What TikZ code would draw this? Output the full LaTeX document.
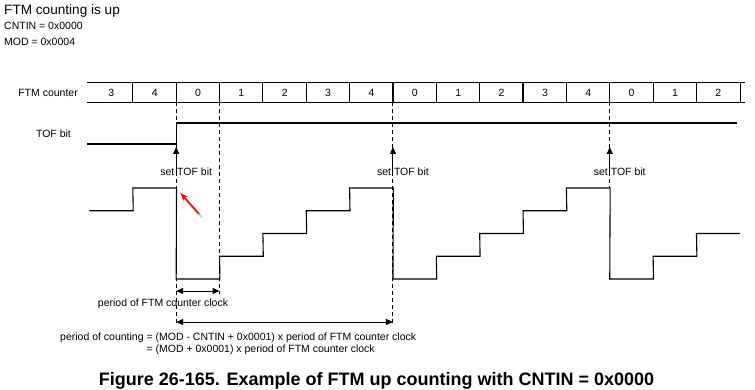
\documentclass[tikz,border=0pt]{standalone}
\usepackage{fontspec}
\setmainfont{Liberation Sans}
\usepackage{tikz}
\usetikzlibrary{arrows.meta, calc}
\newcommand\lblfont{\fontsize{10.5}{12}\selectfont}
\tikzset{
    sig/.style={line width=1.1pt, black},
    guide/.style={line width=1pt, black, dash pattern=on 4pt off 3pt},
    cell/.style={minimum width=43.36pt, minimum height=19pt, inner sep=0pt, font=\lblfont},
    lbl/.style={font=\lblfont, inner sep=0pt},
    tofarrow/.style={-{Triangle[length=7pt,width=6pt]}, line width=1pt},
    span/.style={{Triangle[length=7pt,width=6pt]}-{Triangle[length=7pt,width=6pt]}, line width=1pt}
}

\begin{document}
\begin{tikzpicture}[x=1pt, y=-1pt]
    \useasboundingbox (0,0) rectangle (755,390);

    % Kopf
    \node[anchor=base west, inner sep=0pt, font=\fontsize{13.6}{15}\selectfont] (title) at (4,15) {FTM counting is up};
    \node[lbl, anchor=base west] (cntin) at (4,30) {CNTIN = 0x0000};
    \node[lbl, anchor=base west] (mod) at (4,46) {MOD = 0x0004};

    % Zaehler
    \node[lbl, anchor=east] (cntlbl) at (78,92.5) {FTM counter};
    \foreach \v [count=\k from 0] in {3,4,0,1,2,3,4,0,1,2,3,4,0,1,2}
        \node[cell] (c\k) at ({133+(\k-0.5)*43.36},92.5) {\v};
    \draw[sig] ([xshift=-2.6pt]c0.north west) -- ([xshift=5pt]c14.north east);
    \draw[sig] ([xshift=-2.6pt]c0.south west) -- ([xshift=5pt]c14.south east);
    \foreach \k in {1,...,14}
        \draw[sig] (c\k.north west) -- (c\k.south west);
    \draw[sig] (c14.north east) -- (c14.south east);

    % Hilfslinien
    \draw[guide] (c2.south west) -- (c2.west |- 0,326);
    \draw[guide] (c3.south west) -- (c3.west |- 0,294);
    \draw[guide] (c7.south west) -- (c7.west |- 0,326);
    \draw[guide] (c12.south west) -- (c12.west |- 0,188);

    % TOF bit
    \node[lbl] (toflbl) at (53.5,134) {TOF bit};
    \coordinate (tofL) at (87,144);
    \draw[sig] (tofL) -- (c2.west |- tofL) -- (c2.west |- 0,123) -- ([xshift=-3pt]c14.east |- 0,123);

    \foreach \k in {2,7,12} {
        \node[lbl, anchor=base] (set\k) at ([xshift=10pt]c\k.west |- 0,176) {set TOF bit};
        \draw[tofarrow] (c\k.west |- set\k.base) -- (c\k.west |- 0,147);
    }

    % Zaehlerstand
    \draw[sig] (c0.west |- 0,210.75)
        foreach \v [count=\k from 0, evaluate=\v as \yy using 279-22.75*\v] in {3,4,0,1,2,3,4,0,1,2,3,4,0,1,2}
        { -- (c\k.west |- 0,\yy) -- (c\k.east |- 0,\yy) };

    % roter Pfeil
    \coordinate (redtail) at (199,214);
    \coordinate (redtip) at (180.5,193);
    \draw[black!18, line width=2.5pt, line cap=round] ($(redtail)+(2.5,3)$) -- ($(redtip)+(4,5)$);
    \draw[red, line width=1.5pt, -{Stealth[length=8pt,width=6pt]}] (redtail) -- (redtip);

    % Perioden
    \draw[span] (c2.west |- 0,291) -- (c3.west |- 0,291);
    \node[lbl, anchor=base] (clklbl) at (163,306) {period of FTM counter clock};
    \draw[span] (c2.west |- 0,322) -- (c7.west |- 0,322);
    \node[lbl, anchor=base west] (cntlbl2) at (60,340) {\begin{tabular}[t]{@{}r@{}l@{}}
        period of counting & \ = (MOD - CNTIN + 0x0001) x period of FTM counter clock\\
        & \ = (MOD + 0x0001) x period of FTM counter clock
    \end{tabular}};

    \node[anchor=base, inner sep=0pt, font=\bfseries\fontsize{18}{20}\selectfont] (caption) at (376.5,385)
        {Figure 26-165. Example of FTM up counting with CNTIN = 0x0000};
\end{tikzpicture}
\end{document}
